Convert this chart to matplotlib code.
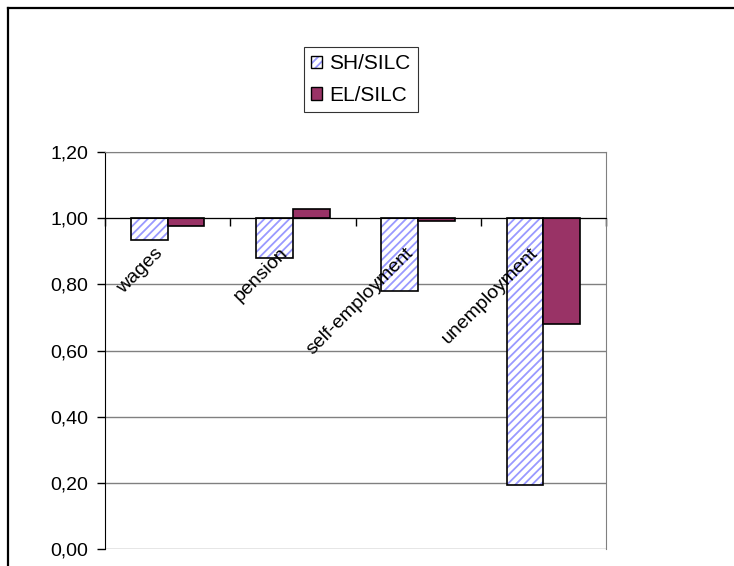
import matplotlib.pyplot as plt
import numpy as np
from matplotlib.patches import Patch
from matplotlib.lines import Line2D
from matplotlib.ticker import FuncFormatter

plt.rcParams['font.family'] = ['Liberation Sans', 'DejaVu Sans']
plt.rcParams['hatch.linewidth'] = 1.3

categories = ["wages", "pension", "self-employment", "unemployment"]
sh_silc = [0.933, 0.880, 0.780, 0.193]
el_silc = [0.976, 1.029, 0.992, 0.679]

base = 1.0
hatch_col = "#9999ff"
el_col = "#993366"
fs = 14

fig = plt.figure(figsize=(7.34, 5.66), dpi=100)
ax = fig.add_axes([0.1431, 0.0300, 0.6826, 0.7014])

x = np.arange(len(categories)) + 0.5
w = 0.293
sh_h = np.array(sh_silc) - base
el_h = np.array(el_silc) - base

# hatched fill first, then a black outline on top
ax.bar(x - w / 2, sh_h, w, bottom=base, facecolor="white", edgecolor=hatch_col,
       hatch="////", linewidth=0, zorder=3)
ax.bar(x - w / 2, sh_h, w, bottom=base, fill=False, edgecolor="black",
       linewidth=1.2, zorder=4)
ax.bar(x + w / 2, el_h, w, bottom=base, color=el_col, edgecolor="black",
       linewidth=1.2, zorder=4)

ax.set_xlim(0, len(categories))
ax.set_ylim(0, 1.2)
ax.set_yticks(np.arange(0, 1.21, 0.2))
ax.yaxis.set_major_formatter(FuncFormatter(lambda v, p: f"{v:.2f}".replace(".", ",")))
ax.yaxis.grid(True, color="#808080", linewidth=1.0, zorder=1)
ax.set_axisbelow(True)
ax.tick_params(axis="y", direction="out", length=6, width=1, pad=6,
               labelsize=fs, color="black")

# category axis crosses at 1,00
ax.spines["bottom"].set_position(("data", base))
ax.spines["bottom"].set_color("black")
ax.spines["bottom"].set_zorder(5)
ax.set_xticks(np.arange(len(categories) + 1))
ax.set_xticklabels([])
ax.tick_params(axis="x", direction="out", length=6, width=1, color="black")
ax.spines["left"].set_color("black")
for s in ("top", "right"):
    ax.spines[s].set_color("#808080")

for xi, name in zip(x, categories):
    ax.annotate(name, (xi, base), xytext=(-10, -19), textcoords="offset points",
                rotation=45, rotation_mode="anchor", ha="right", va="top",
                fontsize=fs, zorder=6)

sh_handle = (Patch(facecolor="white", edgecolor=hatch_col, hatch="////", linewidth=0),
             Patch(fill=False, edgecolor="black", linewidth=1.0))
el_handle = Patch(facecolor=el_col, edgecolor="black", linewidth=1.0)
leg = fig.legend([sh_handle, el_handle], ["SH/SILC", "EL/SILC"],
                 loc="upper left", bbox_to_anchor=(304 / 734, 1 - 47 / 566),
                 fontsize=15, frameon=True, fancybox=False, edgecolor="black",
                 handlelength=0.53, handleheight=0.53, handletextpad=0.34,
                 labelspacing=0.6, borderpad=0.35, borderaxespad=0)
leg.get_frame().set_linewidth(0.8)

# outer chart frame
fig.add_artist(Line2D([8 / 734, 1], [1 - 8 / 566] * 2, color="black", linewidth=1.6))
fig.add_artist(Line2D([8 / 734] * 2, [0, 1 - 8 / 566], color="black", linewidth=1.6))

fig.savefig("out.png", dpi=100)
